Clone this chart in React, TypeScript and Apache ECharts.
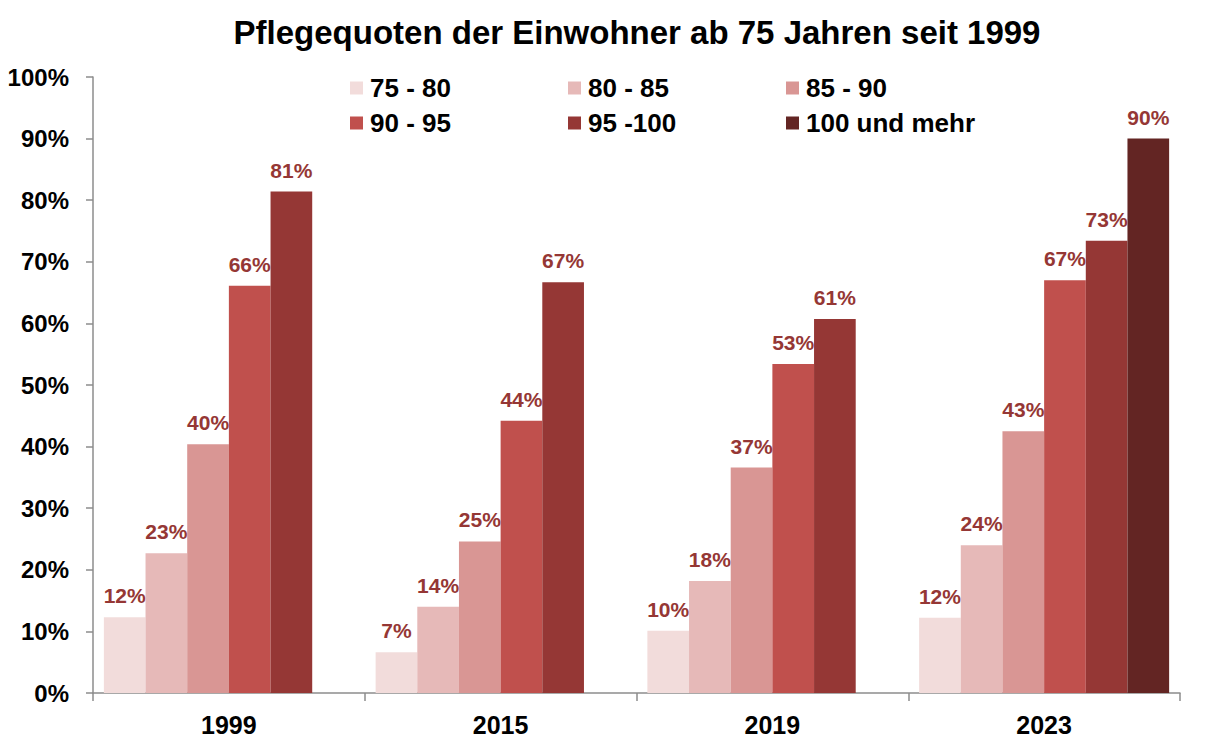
import { useEffect, useRef } from 'react';
import * as echarts from 'echarts';

const years = ['1999', '2015', '2019', '2023'];
const ageGroups = ['75 - 80', '80 - 85', '85 - 90', '90 - 95', '95 -100', '100 und mehr'];
const colors = ['#F2DCDB', '#E6B9B8', '#D99694', '#C0504D', '#953735', '#632523'];

// percentages per age group, one value per year
const q75 = [12.3, 6.6, 10.1, 12.2];
const q80 = [22.7, 14.0, 18.2, 24.0];
const q85 = [40.4, 24.6, 36.6, 42.5];
const q90 = [66.1, 44.2, 53.4, 67.0];
const q95 = [81.4, 66.7, 60.7, 73.4];
const q100 = [null, null, null, 90.0];

const seriesValues = [q75, q80, q85, q90, q95, q100];

// legend grid: 3 columns, 2 rows
const legendLeft = [350, 568, 786];
const legendTop = [75, 110];

const font = '"Liberation Sans", Arial, sans-serif';

export default function App() {
  const chartRef = useRef<HTMLDivElement>(null);

  useEffect(() => {
    if (!chartRef.current) return;
    const chart = echarts.init(chartRef.current, null, { renderer: 'svg' });

    const option = {
      animation: false,
      textStyle: { fontFamily: font },
      title: {
        text: 'Pflegequoten der Einwohner ab 75 Jahren seit 1999',
        left: 632,
        textAlign: 'center',
        top: 11,
        textStyle: { fontFamily: font, fontSize: 33, fontWeight: 'bold', color: '#000' }
      },
      legend: ageGroups.map((name, i) => ({
        data: [name],
        left: legendLeft[i % 3],
        top: legendTop[Math.floor(i / 3)],
        icon: 'rect',
        itemWidth: 13,
        itemHeight: 13,
        itemGap: 0,
        padding: 0,
        selectedMode: false,
        textStyle: { fontFamily: font, fontSize: 26, fontWeight: 'bold', color: '#000', padding: [0, 0, 0, 2] }
      })),
      grid: { left: 93, right: 27, top: 77, bottom: 58, containLabel: false },
      xAxis: {
        type: 'category',
        data: years,
        axisLine: { lineStyle: { color: '#8c8c8c', width: 1.5 } },
        axisTick: { show: true, length: 8, lineStyle: { color: '#8c8c8c', width: 1.5 } },
        axisLabel: { fontFamily: font, fontSize: 25, fontWeight: 'bold', color: '#000', margin: 19 }
      },
      yAxis: {
        type: 'value',
        min: 0,
        max: 100,
        interval: 10,
        axisLine: { show: true, lineStyle: { color: '#8c8c8c', width: 1.5 } },
        axisTick: { show: true, length: 7, lineStyle: { color: '#8c8c8c', width: 1.5 } },
        splitLine: { show: false },
        axisLabel: {
          fontFamily: font,
          fontSize: 24,
          fontWeight: 'bold',
          color: '#000',
          margin: 24,
          formatter: '{value}%'
        }
      },
      series: ageGroups.map((name, i) => ({
        name,
        type: 'bar',
        data: seriesValues[i],
        barGap: '0%',
        barCategoryGap: '8%',
        itemStyle: { color: colors[i] },
        label: {
          show: true,
          position: 'top',
          distance: 11,
          fontFamily: font,
          fontSize: 21,
          fontWeight: 'bold',
          color: '#953735',
          formatter: (p: any) => Math.round(p.value) + '%'
        }
      }))
    };

    chart.setOption(option);

    return () => {
      chart.dispose();
    };
  }, []);

  return (
    <div
      ref={chartRef}
      style={{ position: 'fixed', left: 0, top: 0, width: '1207px', height: '751px', background: '#fff' }}
    />
  );
}
